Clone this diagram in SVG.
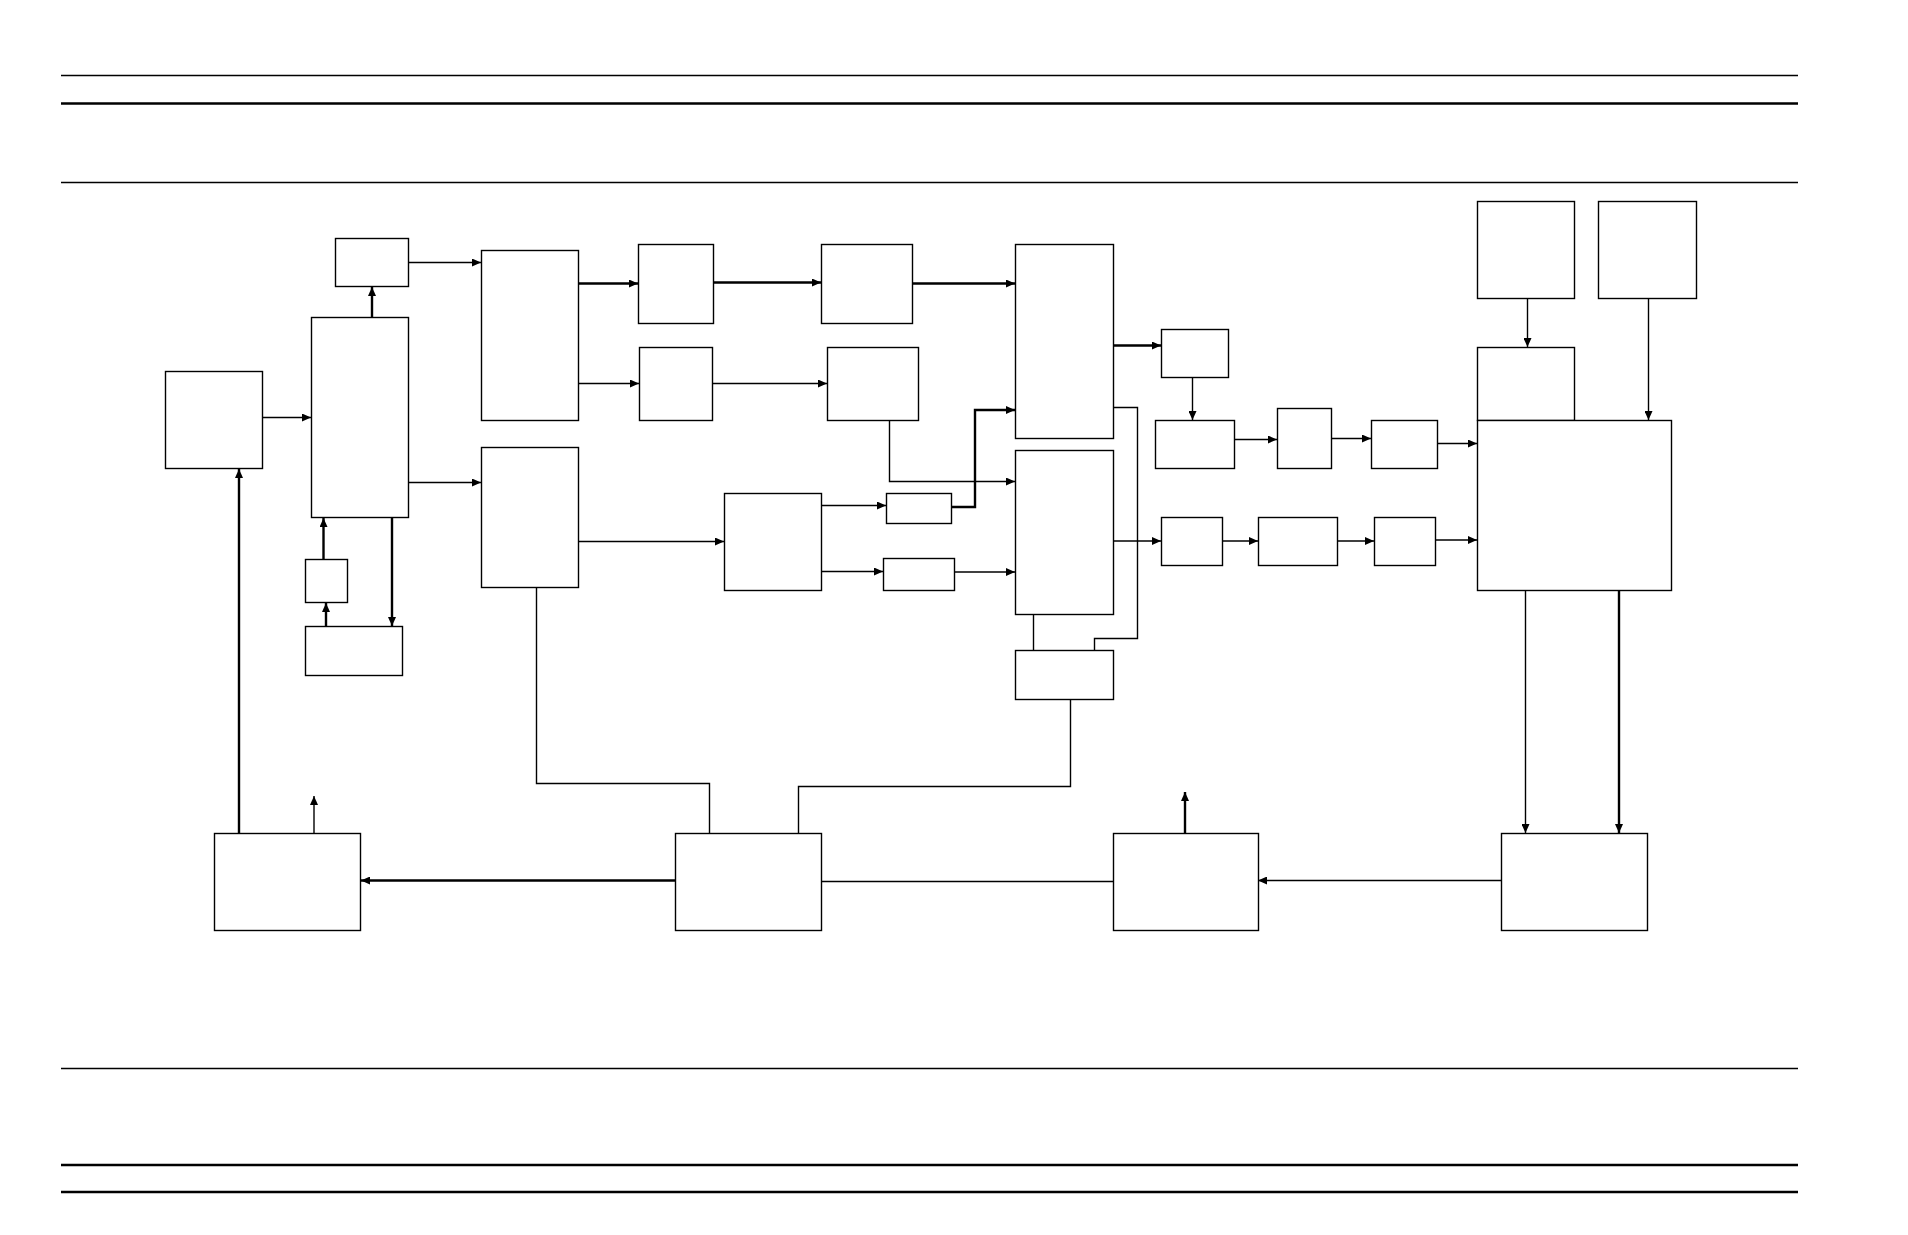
<svg xmlns="http://www.w3.org/2000/svg" width="1908" height="1235" viewBox="0 0 1908 1235">
<style>
.box{fill:#fff;stroke:#000;stroke-width:1.4}
.t{fill:none;stroke:#000;stroke-width:1.4}
.T{fill:none;stroke:#000;stroke-width:2.4}
.rule{stroke:#000;fill:none}
</style>
<defs>
<marker id="a" markerUnits="userSpaceOnUse" markerWidth="9" markerHeight="8" refX="9" refY="4" orient="auto">
<path d="M0,0 L9,4 L0,8 z" fill="#000"/>
</marker>
</defs>
<rect width="1908" height="1235" fill="#fff"/>
<g id="rules">
<line class="rule" x1="61" y1="75.5" x2="1798" y2="75.5" stroke-width="1.4"/>
<line class="rule" x1="61" y1="103.5" x2="1798" y2="103.5" stroke-width="2.4"/>
<line class="rule" x1="61" y1="182.5" x2="1798" y2="182.5" stroke-width="1.4"/>
<line class="rule" x1="61" y1="1068.5" x2="1798" y2="1068.5" stroke-width="1.4"/>
<line class="rule" x1="61" y1="1165" x2="1798" y2="1165" stroke-width="2.4"/>
<line class="rule" x1="61" y1="1192" x2="1798" y2="1192" stroke-width="2.4"/>
</g>
<g id="connectors">
<path class="t" d="M262.5,417.5 H311" marker-end="url(#a)"/>
<path class="T" d="M372,317 V287" marker-end="url(#a)"/>
<path class="t" d="M408,262.5 H481" marker-end="url(#a)"/>
<path class="t" d="M408,482.5 H481" marker-end="url(#a)"/>
<path class="T" d="M323.5,559 V518" marker-end="url(#a)"/>
<path class="T" d="M326,626 V603" marker-end="url(#a)"/>
<path class="T" d="M392,518 V626" marker-end="url(#a)"/>
<path class="T" d="M239,833 V469" marker-end="url(#a)"/>
<path class="t" d="M314,833 V796" marker-end="url(#a)"/>
<path class="T" d="M578,283.5 H638" marker-end="url(#a)"/>
<path class="T" d="M713,282.5 H821" marker-end="url(#a)"/>
<path class="T" d="M913,283.5 H1015" marker-end="url(#a)"/>
<path class="t" d="M578,383.5 H639" marker-end="url(#a)"/>
<path class="t" d="M712,383.5 H827" marker-end="url(#a)"/>
<path class="t" d="M889.5,420 V481.5 H1015" marker-end="url(#a)"/>
<path class="T" d="M951,507 H975 V410 H1015" marker-end="url(#a)"/>
<path class="t" d="M578,541.5 H724" marker-end="url(#a)"/>
<path class="t" d="M821,505.5 H886" marker-end="url(#a)"/>
<path class="t" d="M821,571.5 H883" marker-end="url(#a)"/>
<path class="t" d="M954,572 H1015" marker-end="url(#a)"/>
<path class="T" d="M1113,345.5 H1161" marker-end="url(#a)"/>
<path class="t" d="M1192.5,377 V420" marker-end="url(#a)"/>
<path class="t" d="M1234,439.5 H1277" marker-end="url(#a)"/>
<path class="t" d="M1331,438.5 H1371" marker-end="url(#a)"/>
<path class="t" d="M1437,443.5 H1477" marker-end="url(#a)"/>
<path class="t" d="M1113,541 H1161" marker-end="url(#a)"/>
<path class="t" d="M1222,541 H1258" marker-end="url(#a)"/>
<path class="t" d="M1337,541 H1374" marker-end="url(#a)"/>
<path class="t" d="M1435,540 H1477" marker-end="url(#a)"/>
<path class="t" d="M1113,407.5 H1137.5 V638.5 H1094.5 V650"/>
<path class="t" d="M1033.5,614 V650"/>
<path class="t" d="M1070.5,699 V786.5 H798.5 V833"/>
<path class="t" d="M536.5,587 V783.5 H709.5 V833"/>
<path class="t" d="M1527.5,298 V347" marker-end="url(#a)"/>
<path class="t" d="M1648.5,298 V420" marker-end="url(#a)"/>
<path class="t" d="M1525.5,590 V833" marker-end="url(#a)"/>
<path class="T" d="M1619,590 V833" marker-end="url(#a)"/>
<path class="t" d="M1501,880.5 H1258" marker-end="url(#a)"/>
<path class="T" d="M1185,833 V792" marker-end="url(#a)"/>
<path class="t" d="M821,881.5 H1113"/>
<path class="T" d="M675,880.5 H361" marker-end="url(#a)"/>
</g>
<g id="nA"><rect class="box" x="165.5" y="371.5" width="97" height="97"/></g>
<g id="nB"><rect class="box" x="311.5" y="317.5" width="97" height="200"/></g>
<g id="nC"><rect class="box" x="335.5" y="238.5" width="73" height="48"/></g>
<g id="nD"><rect class="box" x="481.5" y="250.5" width="97" height="170"/></g>
<g id="nE"><rect class="box" x="481.5" y="447.5" width="97" height="140"/></g>
<g id="nF"><rect class="box" x="305.5" y="559.5" width="42" height="43"/></g>
<g id="nG"><rect class="box" x="305.5" y="626.5" width="97" height="49"/></g>
<g id="nH"><rect class="box" x="638.5" y="244.5" width="75" height="79"/></g>
<g id="nI"><rect class="box" x="821.5" y="244.5" width="91" height="79"/></g>
<g id="nK"><rect class="box" x="639.5" y="347.5" width="73" height="73"/></g>
<g id="nL"><rect class="box" x="827.5" y="347.5" width="91" height="73"/></g>
<g id="nN"><rect class="box" x="724.5" y="493.5" width="97" height="97"/></g>
<g id="nO"><rect class="box" x="886.5" y="493.5" width="65" height="30"/></g>
<g id="nP"><rect class="box" x="883.5" y="558.5" width="71" height="32"/></g>
<g id="nJ"><rect class="box" x="1015.5" y="244.5" width="98" height="194"/></g>
<g id="nM"><rect class="box" x="1015.5" y="450.5" width="98" height="164"/></g>
<g id="nZ"><rect class="box" x="1015.5" y="650.5" width="98" height="49"/></g>
<g id="nQ"><rect class="box" x="1161.5" y="329.5" width="67" height="48"/></g>
<g id="nR"><rect class="box" x="1155.5" y="420.5" width="79" height="48"/></g>
<g id="nS"><rect class="box" x="1277.5" y="408.5" width="54" height="60"/></g>
<g id="nT"><rect class="box" x="1371.5" y="420.5" width="66" height="48"/></g>
<g id="nW"><rect class="box" x="1161.5" y="517.5" width="61" height="48"/></g>
<g id="nX"><rect class="box" x="1258.5" y="517.5" width="79" height="48"/></g>
<g id="nY"><rect class="box" x="1374.5" y="517.5" width="61" height="48"/></g>
<g id="nAA"><rect class="box" x="1477.5" y="201.5" width="97" height="97"/></g>
<g id="nAB"><rect class="box" x="1598.5" y="201.5" width="98" height="97"/></g>
<g id="nV"><rect class="box" x="1477.5" y="347.5" width="97" height="73"/></g>
<g id="nU"><rect class="box" x="1477.5" y="420.5" width="194" height="170"/></g>
<g id="nEE"><rect class="box" x="214.5" y="833.5" width="146" height="97"/></g>
<g id="nDD"><rect class="box" x="675.5" y="833.5" width="146" height="97"/></g>
<g id="nCC"><rect class="box" x="1113.5" y="833.5" width="145" height="97"/></g>
<g id="nBB"><rect class="box" x="1501.5" y="833.5" width="146" height="97"/></g>
</svg>
